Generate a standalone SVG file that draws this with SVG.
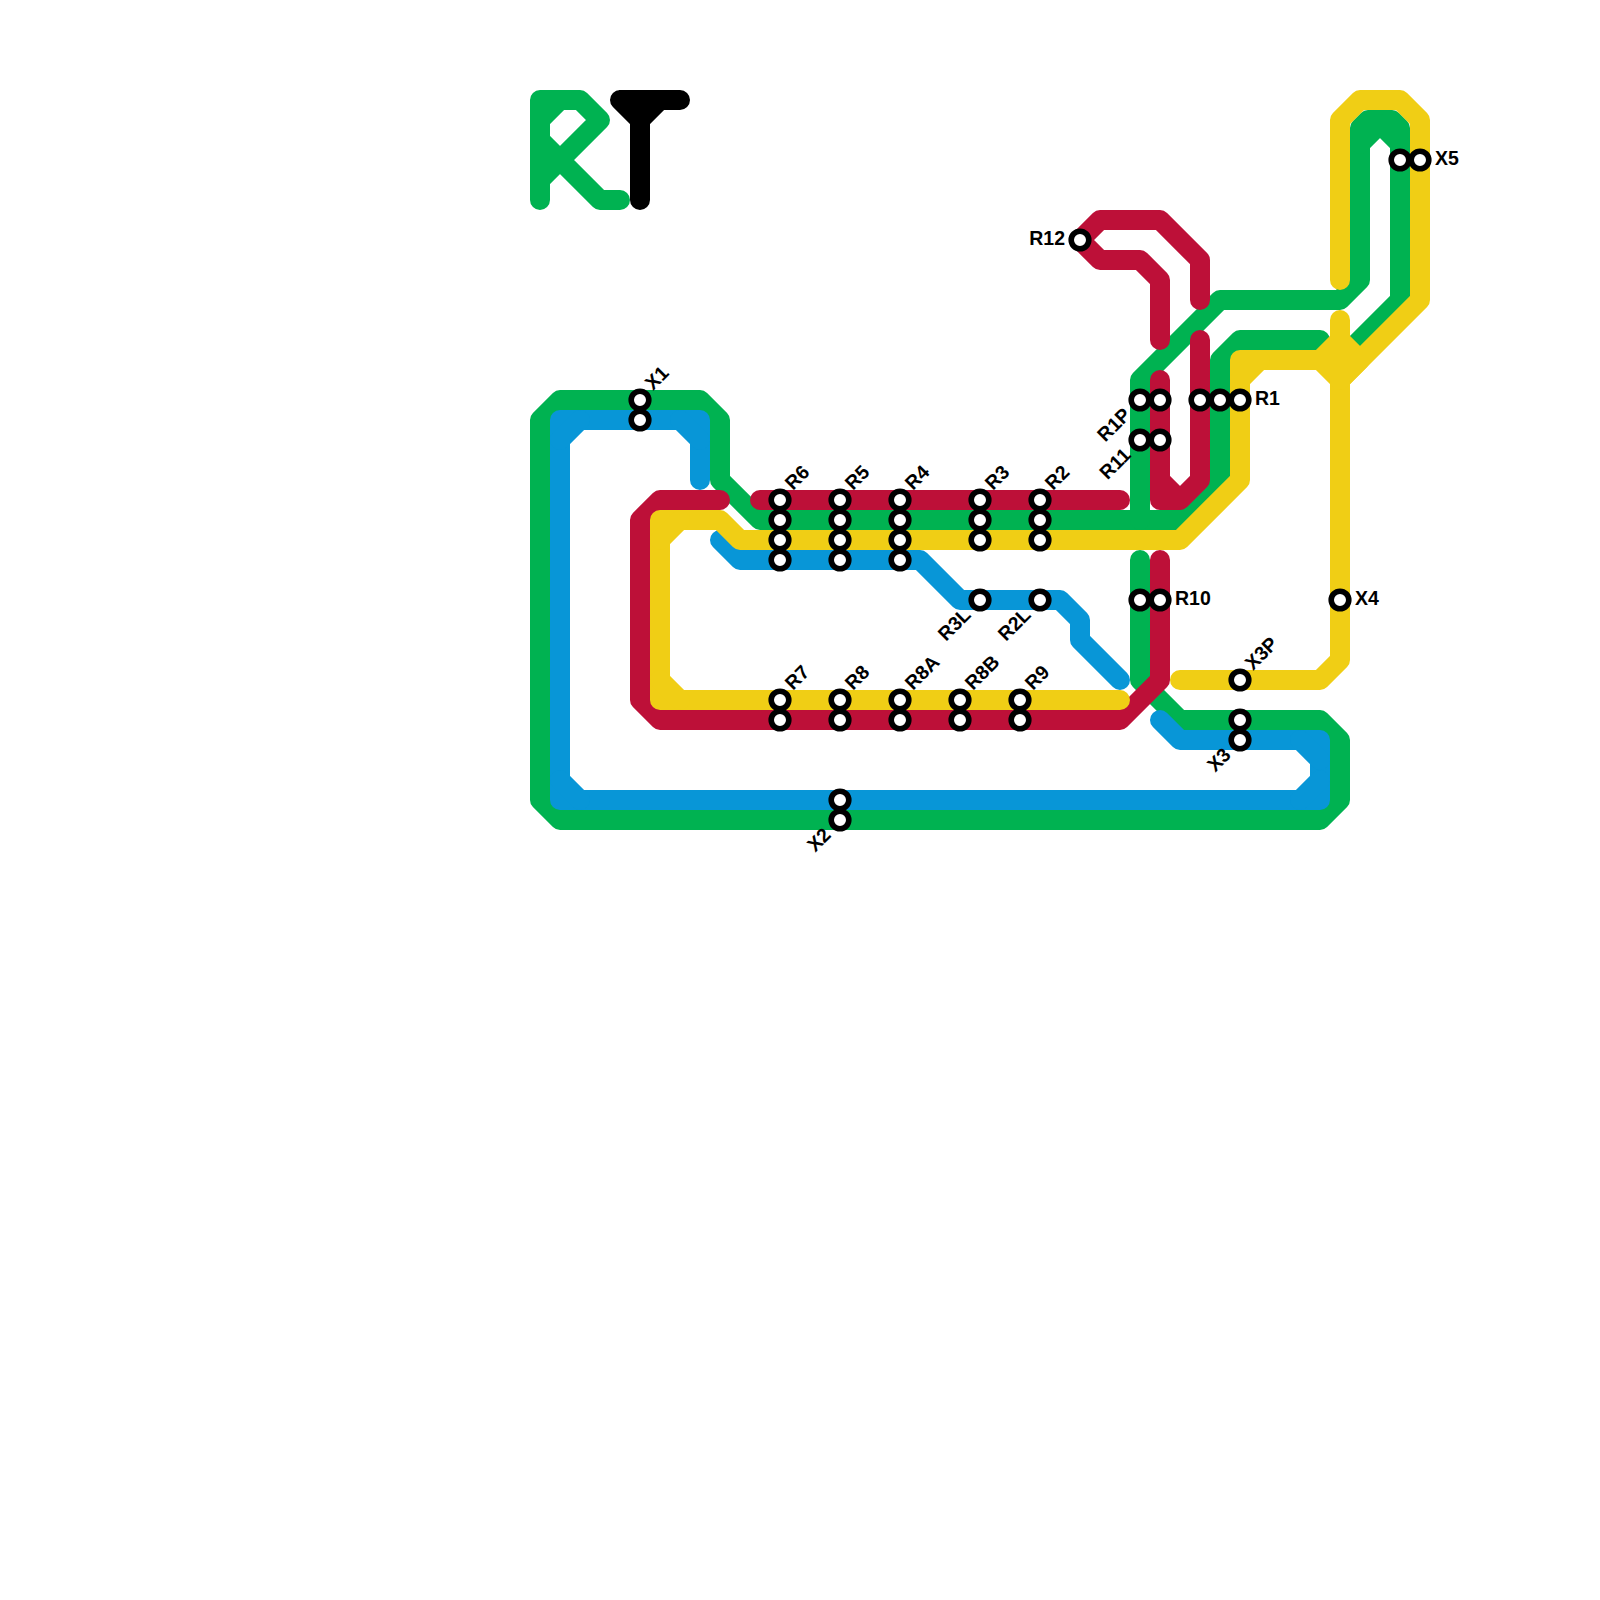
<svg xmlns="http://www.w3.org/2000/svg" width="1600" height="1600" viewBox="0 0 1600 1600">
<style>
.l{fill:none;stroke-width:20;stroke-linecap:round;stroke-linejoin:round}
.g{stroke:#00b251}.b{stroke:#0896d7}.r{stroke:#bd1038}.y{stroke:#f0ce15}.k{stroke:#000}
.s{fill:#fff;stroke:#000;stroke-width:5.6}
text{font-family:"Liberation Sans",Arial,sans-serif;font-weight:700;font-size:19.5px;fill:#000}
</style>
<rect width="1600" height="1600" fill="#fff"/>
<g id="logo">
<path class="l g" d="M540 200V100H580L600 120L540 180M540 140L600 200H620M540 120L560 100H540Z"/>
<path class="l k" d="M620 100H680M620 100L640 120V200M660 100L640 120"/>
</g>
<g id="connectors">
<path class="l g" d="M1320 340H1240L1220 360V480L1180 520H760L720 480V420L700 400H560L540 420V800L560 820H1320L1340 800V740L1320 720H1180L1140 680V560"/>
<path class="l g" d="M1140 520V380L1220 300H1340L1360 280V128L1368 120H1392L1400 128V300L1340 360"/>
<path class="l g" d="M1360 144L1380 124L1400 144"/>
<path class="l b" d="M1160 720L1180 740H1320V800H560V420H700V480"/>
<path class="l b" d="M560 440L580 420M680 420L700 440M560 780L580 800M1300 740L1320 760M1320 780L1300 800"/>
<path class="l b" d="M720 540L740 560H920L960 600H1060L1080 620V640L1120 680"/>
<path class="l r" d="M720 500H660L640 520V700L660 720H1120L1160 680V560"/>
<path class="l r" d="M760 500H1120"/>
<path class="l r" d="M1160 380V500H1180L1200 480V340M1160 480L1180 500"/>
<path class="l r" d="M1200 300V260L1160 220H1100L1080 240L1100 260H1140L1160 280V340"/>
<path class="l y" d="M1120 700H660V520H720L740 540H1180L1240 480V360H1320L1340 340L1360 360L1340 380L1320 360"/>
<path class="l y" d="M660 540L680 520M660 680L680 700M1240 380L1260 360"/>
<path class="l y" d="M1340 280V120L1360 100H1400L1420 120V300L1340 380V660L1320 680H1180"/>
<path class="l y" d="M1340 320V380"/>
</g>
<g id="X1"><circle class="s" cx="640" cy="400" r="8.8"/><circle class="s" cx="640" cy="420" r="8.8"/><text transform="translate(653 391) rotate(-45)">X1</text></g>
<g id="R6"><circle class="s" cx="780" cy="500" r="8.8"/><circle class="s" cx="780" cy="520" r="8.8"/><circle class="s" cx="780" cy="540" r="8.8"/><circle class="s" cx="780" cy="560" r="8.8"/><text transform="translate(793 491) rotate(-45)">R6</text></g>
<g id="R5"><circle class="s" cx="840" cy="500" r="8.8"/><circle class="s" cx="840" cy="520" r="8.8"/><circle class="s" cx="840" cy="540" r="8.8"/><circle class="s" cx="840" cy="560" r="8.8"/><text transform="translate(853 491) rotate(-45)">R5</text></g>
<g id="R4"><circle class="s" cx="900" cy="500" r="8.8"/><circle class="s" cx="900" cy="520" r="8.8"/><circle class="s" cx="900" cy="540" r="8.8"/><circle class="s" cx="900" cy="560" r="8.8"/><text transform="translate(913 491) rotate(-45)">R4</text></g>
<g id="R3"><circle class="s" cx="980" cy="500" r="8.8"/><circle class="s" cx="980" cy="520" r="8.8"/><circle class="s" cx="980" cy="540" r="8.8"/><text transform="translate(993 491) rotate(-45)">R3</text></g>
<g id="R2"><circle class="s" cx="1040" cy="500" r="8.8"/><circle class="s" cx="1040" cy="520" r="8.8"/><circle class="s" cx="1040" cy="540" r="8.8"/><text transform="translate(1053 491) rotate(-45)">R2</text></g>
<g id="R3L"><circle class="s" cx="980" cy="600" r="8.8"/><text transform="translate(972 616) rotate(-45)" text-anchor="end">R3L</text></g>
<g id="R2L"><circle class="s" cx="1040" cy="600" r="8.8"/><text transform="translate(1032 616) rotate(-45)" text-anchor="end">R2L</text></g>
<g id="R7"><circle class="s" cx="780" cy="700" r="8.8"/><circle class="s" cx="780" cy="720" r="8.8"/><text transform="translate(793 691) rotate(-45)">R7</text></g>
<g id="R8"><circle class="s" cx="840" cy="700" r="8.8"/><circle class="s" cx="840" cy="720" r="8.8"/><text transform="translate(853 691) rotate(-45)">R8</text></g>
<g id="R8A"><circle class="s" cx="900" cy="700" r="8.8"/><circle class="s" cx="900" cy="720" r="8.8"/><text transform="translate(913 691) rotate(-45)">R8A</text></g>
<g id="R8B"><circle class="s" cx="960" cy="700" r="8.8"/><circle class="s" cx="960" cy="720" r="8.8"/><text transform="translate(973 691) rotate(-45)">R8B</text></g>
<g id="R9"><circle class="s" cx="1020" cy="700" r="8.8"/><circle class="s" cx="1020" cy="720" r="8.8"/><text transform="translate(1033 691) rotate(-45)">R9</text></g>
<g id="X2"><circle class="s" cx="840" cy="800" r="8.8"/><circle class="s" cx="840" cy="820" r="8.8"/><text transform="translate(832 836) rotate(-45)" text-anchor="end">X2</text></g>
<g id="R1P"><circle class="s" cx="1140" cy="400" r="8.8"/><circle class="s" cx="1160" cy="400" r="8.8"/><text transform="translate(1132 416) rotate(-45)" text-anchor="end">R1P</text></g>
<g id="R11"><circle class="s" cx="1140" cy="440" r="8.8"/><circle class="s" cx="1160" cy="440" r="8.8"/><text transform="translate(1132 456) rotate(-45)" text-anchor="end">R11</text></g>
<g id="R1"><circle class="s" cx="1200" cy="400" r="8.8"/><circle class="s" cx="1220" cy="400" r="8.8"/><circle class="s" cx="1240" cy="400" r="8.8"/><text x="1255" y="405">R1</text></g>
<g id="R10"><circle class="s" cx="1140" cy="600" r="8.8"/><circle class="s" cx="1160" cy="600" r="8.8"/><text x="1175" y="605">R10</text></g>
<g id="X3P"><circle class="s" cx="1240" cy="680" r="8.8"/><text transform="translate(1253 671) rotate(-45)">X3P</text></g>
<g id="X3"><circle class="s" cx="1240" cy="720" r="8.8"/><circle class="s" cx="1240" cy="740" r="8.8"/><text transform="translate(1232 756) rotate(-45)" text-anchor="end">X3</text></g>
<g id="X4"><circle class="s" cx="1340" cy="600" r="8.8"/><text x="1355" y="605">X4</text></g>
<g id="X5"><circle class="s" cx="1400" cy="160" r="8.8"/><circle class="s" cx="1420" cy="160" r="8.8"/><text x="1435" y="165">X5</text></g>
<g id="R12"><circle class="s" cx="1080" cy="240" r="8.8"/><text x="1065" y="245" text-anchor="end">R12</text></g>
</svg>
